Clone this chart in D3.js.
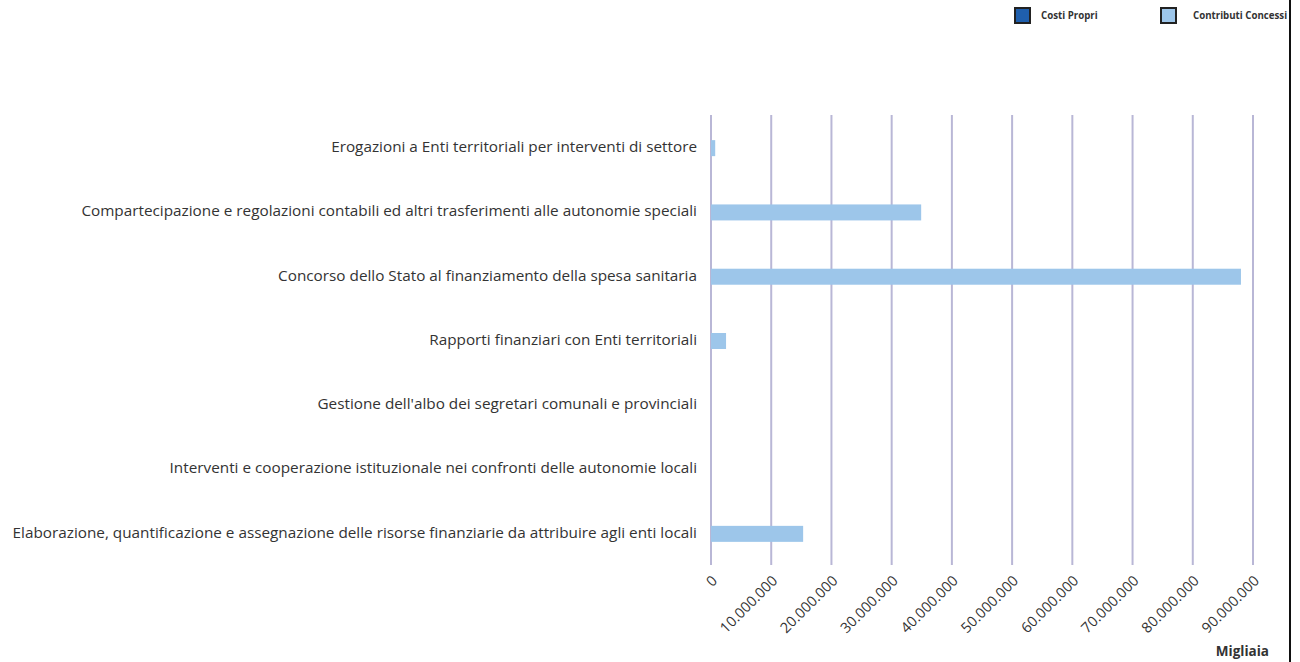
<!DOCTYPE html>
<html><head><meta charset="utf-8">
<script src="https://cdn.jsdelivr.net/npm/d3@7/dist/d3.min.js"></script>
<style>body{margin:0;background:#fff;} svg{display:block;}</style>
</head><body>
<svg id="c" width="1300" height="662"></svg>
<script>
const categories = [
  "Erogazioni a Enti territoriali per interventi di settore",
  "Compartecipazione e regolazioni contabili ed altri trasferimenti alle autonomie speciali",
  "Concorso dello Stato al finanziamento della spesa sanitaria",
  "Rapporti finanziari con Enti territoriali",
  "Gestione dell'albo dei segretari comunali e provinciali",
  "Interventi e cooperazione istituzionale nei confronti delle autonomie locali",
  "Elaborazione, quantificazione e assegnazione delle risorse finanziarie da attribuire agli enti locali"
];
const costiPropri = [0, 0, 0, 0, 0, 0, 0];
const contributiConcessi = [700000, 34900000, 88000000, 2500000, 0, 0, 15300000];
const tickValues = [0,10000000,20000000,30000000,40000000,50000000,60000000,70000000,80000000,90000000];
const seriesNames = ["Costi Propri", "Contributi Concessi"];
const seriesColors = ["#1f5fad", "#9dc6ea"];

(function(){
const svg = d3.select("#c");
const pL = 711, pR = 1253, pT = 115, pB = 565;
const x = d3.scaleLinear().domain([0, 90000000]).range([pL, pR]);
const y = d3.scaleBand().domain(categories).range([pT, pB]);
const fmt = v => d3.format(",")(v).replace(/,/g, ".");
const FF = "Open Sans, sans-serif";

svg.append("g").selectAll("line").data(tickValues).join("line")
  .attr("x1", d => x(d)).attr("x2", d => x(d))
  .attr("y1", pT).attr("y2", pB)
  .attr("stroke", "#b9b7d6").attr("stroke-width", 2);

const bh = 16;
svg.append("g").selectAll("rect").data(categories).join("rect")
  .attr("x", x(0)).attr("y", d => y(d) + y.bandwidth()/2 - bh/2 + 1)
  .attr("width", (d,i) => x(costiPropri[i]) - x(0)).attr("height", bh)
  .attr("fill", seriesColors[0]);
svg.append("g").selectAll("rect").data(categories).join("rect")
  .attr("x", x(0)).attr("y", d => y(d) + y.bandwidth()/2 - bh/2 + 1)
  .attr("width", (d,i) => x(contributiConcessi[i]) - x(0)).attr("height", bh)
  .attr("fill", seriesColors[1]);

const yAxis = d3.axisLeft(y).tickSize(0).tickPadding(14);
const ga = svg.append("g").attr("transform", `translate(${pL},0)`).call(yAxis);
ga.select(".domain").remove();
ga.selectAll("text").attr("font-family", FF).attr("font-size", 15.3)
  .attr("fill", "#333");

const xAxis = d3.axisBottom(x).tickValues(tickValues).tickFormat(fmt).tickSize(0).tickPadding(0);
const gx = svg.append("g").attr("transform", `translate(3,${pB + 13})`).call(xAxis);
gx.select(".domain").remove();
gx.selectAll(".tick text").attr("font-family", FF).attr("font-size", 14.5)
  .attr("fill", "#333").attr("text-anchor", "end")
  .attr("x", 0).attr("y", 0).attr("dy", "0.35em")
  .attr("transform", "rotate(-45)");

svg.append("text").attr("x", 1269).attr("y", 656).attr("text-anchor", "end")
  .attr("font-family", FF).attr("font-weight", "bold").attr("font-size", 13.5)
  .attr("fill", "#333").text("Migliaia");

const lx = [1014, 1160];
const lg = svg.append("g").selectAll("g").data(seriesNames).join("g")
  .attr("transform", (d,i) => `translate(${lx[i]},7)`);
lg.append("rect").attr("x", 1).attr("y", 1).attr("width", 15).attr("height", 15)
  .attr("fill", (d,i) => seriesColors[i]).attr("stroke", "#222").attr("stroke-width", 2);
lg.append("text").attr("x", (d,i) => i === 0 ? 27 : 33).attr("y", 12)
  .attr("font-family", FF).attr("font-weight", "bold").attr("font-size", 9.7)
  .attr("fill", "#333").text(d => d);

svg.append("line").attr("x1", 1290).attr("x2", 1290).attr("y1", 0).attr("y2", 662)
  .attr("stroke", "#111").attr("stroke-width", 2);
})();
</script>
</body></html>
